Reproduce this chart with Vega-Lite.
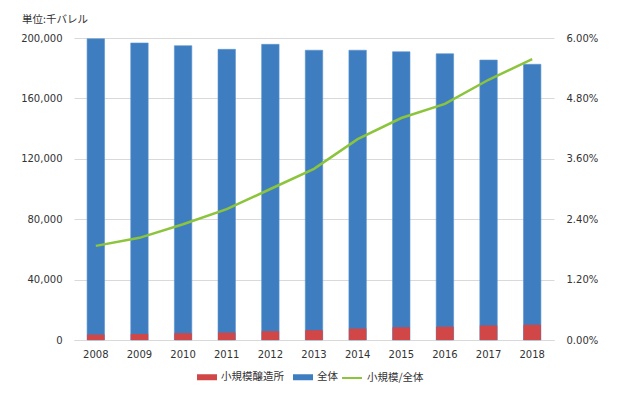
{
  "$schema": "https://vega.github.io/schema/vega-lite/v6.json",
  "width": 480,
  "height": 302,
  "autosize": {"type": "none"},
  "padding": {"left": 74, "top": 38, "right": 76, "bottom": 54},
  "background": "white",
  "title": {
    "text": "単位:千バレル",
    "anchor": "start",
    "frame": "group",
    "dx": -52,
    "offset": 8,
    "fontSize": 10.5,
    "fontWeight": "normal",
    "color": "#333333",
    "font": "Noto Sans CJK JP"
  },
  "data": {
    "values": [
      {"year": "2008", "total": 199500, "small": 3600, "ratio": 0.0187},
      {"year": "2009", "total": 196700, "small": 4000, "ratio": 0.0203},
      {"year": "2010", "total": 194900, "small": 4500, "ratio": 0.0230},
      {"year": "2011", "total": 192500, "small": 4900, "ratio": 0.0260},
      {"year": "2012", "total": 195800, "small": 5800, "ratio": 0.0300},
      {"year": "2013", "total": 191900, "small": 6500, "ratio": 0.0340},
      {"year": "2014", "total": 191900, "small": 7600, "ratio": 0.0399},
      {"year": "2015", "total": 190900, "small": 8400, "ratio": 0.0441},
      {"year": "2016", "total": 189600, "small": 8800, "ratio": 0.0469},
      {"year": "2017", "total": 185400, "small": 9600, "ratio": 0.0517},
      {"year": "2018", "total": 182600, "small": 10100, "ratio": 0.0558}
    ]
  },
  "encoding": {
    "x": {
      "field": "year",
      "type": "ordinal",
      "title": null,
      "scale": {"paddingInner": 0.6, "paddingOuter": 0.3},
      "axis": {
        "labelAngle": 0,
        "ticks": false,
        "domainColor": "#d9d9d9",
        "labelPadding": 9,
        "grid": false
      }
    }
  },
  "layer": [
    {
      "layer": [
        {
          "mark": {"type": "bar", "stroke": "#5b93cf", "strokeWidth": 0.6},
          "encoding": {
            "y": {
              "field": "total",
              "type": "quantitative",
              "title": null,
              "scale": {"domain": [0, 200000]},
              "axis": {
                "values": [0, 40000, 80000, 120000, 160000, 200000],
                "format": ",d",
                "ticks": false,
                "domain": false,
                "gridColor": "#d9d9d9",
                "labelPadding": 12
              }
            },
            "color": {
              "datum": "全体",
              "type": "nominal",
              "scale": {"domain": ["小規模醸造所", "全体"], "range": ["#d14646", "#3e7ec0"]},
              "legend": {
                "title": null,
                "orient": "none",
                "direction": "horizontal",
                "legendX": 123,
                "legendY": 329,
                "symbolType": "M-1,-0.3H1V0.3H-1Z",
                "symbolSize": 400,
                "symbolStrokeWidth": 0,
                "columnPadding": 9,
                "labelOffset": 4
              }
            }
          }
        },
        {
          "mark": {"type": "bar"},
          "encoding": {
            "y": {"field": "small", "type": "quantitative"},
            "color": {"datum": "小規模醸造所", "type": "nominal"}
          }
        }
      ]
    },
    {
      "mark": {"type": "line", "strokeWidth": 2.5},
      "encoding": {
        "y": {
          "field": "ratio",
          "type": "quantitative",
          "title": null,
          "scale": {"domain": [0, 0.06]},
          "axis": {
            "orient": "right",
            "values": [0, 0.012, 0.024, 0.036, 0.048, 0.06],
            "format": ".2%",
            "ticks": false,
            "domain": false,
            "grid": false,
            "labelPadding": 12
          }
        },
        "stroke": {
          "datum": "小規模/全体",
          "type": "nominal",
          "scale": {"range": ["#8cc43c"]},
          "legend": {
            "title": null,
            "orient": "none",
            "legendX": 267,
            "legendY": 329,
            "symbolSize": 400,
            "symbolStrokeWidth": 2,
            "labelOffset": 4
          }
        }
      }
    }
  ],
  "resolve": {"scale": {"y": "independent"}},
  "config": {
    "view": {"stroke": null},
    "font": "DejaVu Sans, Noto Sans CJK JP",
    "axis": {"labelFontSize": 10, "labelColor": "#333333", "labelFont": "DejaVu Sans"},
    "legend": {"labelFontSize": 10.5, "labelColor": "#333333", "labelFont": "Noto Sans CJK JP"}
  }
}
